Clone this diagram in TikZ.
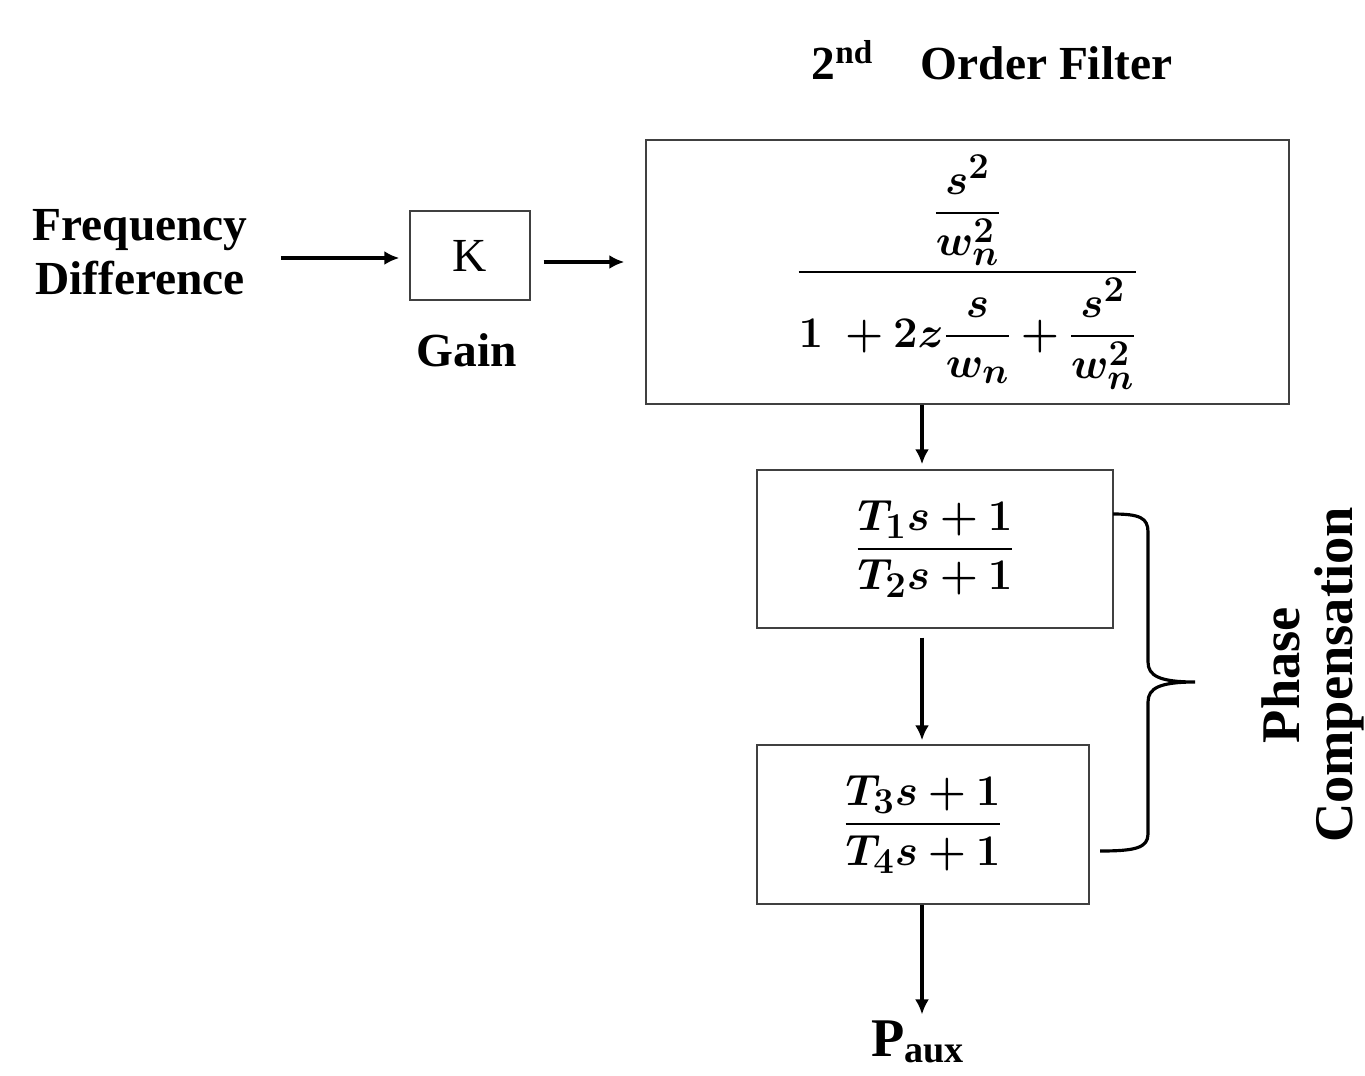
\documentclass[tikz,border=0pt]{standalone}
\usepackage{amsmath}
\usepackage{bm}
\usepackage{fontspec}
\setmainfont{Liberation Serif}
\usetikzlibrary{arrows.meta,positioning}
\newlength\pxu
\setlength\pxu{0.02cm}
\newcommand\filtexpr{$\dfrac{\dfrac{\bm{s}^{\bm{2}}}{\bm{w}_{\bm{n}}^{\bm{2}}}}{\bm{1}\;\bm{+}\bm{2}\bm{z}\dfrac{\bm{s}}{\bm{w}_{\bm{n}}}\bm{+}\dfrac{\bm{s}^{\bm{2}}}{\bm{w}_{\bm{n}}^{\bm{2}}}}$}
\newcommand\leadexpr[2]{$\dfrac{\bm{T}_{\bm{#1}}\bm{s}\bm{+}\bm{1}}{\bm{T}_{\bm{#2}}\bm{s}\bm{+}\bm{1}}$}
\begin{document}
\begin{tikzpicture}[x=1\pxu, y=-1\pxu,
    every node/.style={font=\fontsize{27}{33}\selectfont},
    lbl/.style={font=\fontsize{27}{31}\selectfont\bfseries, align=center},
    blk/.style={draw=black!75, line width=0.8pt, inner sep=0pt},
    eqn/.style={blk, font=\fontsize{29}{35}\selectfont},
    arr/.style={-{Latex[length=0.3cm,width=0.28cm]}, line width=1.8pt},
    brace/.style={line width=1.8pt}]
    \useasboundingbox (0,0) rectangle (1365,1075);

    % blocks
    \node[blk, minimum width=120\pxu, minimum height=89\pxu] (gain) at (470,255.5) {K};
    \node[eqn, minimum width=643\pxu, minimum height=264\pxu] (filt) at (967.5,272) {\filtexpr};
    \node[eqn, minimum width=356\pxu, minimum height=158\pxu] (lead1) at (935,549) {\leadexpr{1}{2}};
    \node[eqn, minimum width=332\pxu, minimum height=159\pxu] (lead2) at (923,824.5) {\leadexpr{3}{4}};

    % labels
    \node[lbl] (freq) at (140,252) {Frequency\\Difference};
    \node[lbl] (gainlbl) at (467,350) {Gain};
    \node[lbl] (title) at (992,60) {2\textsuperscript{nd}\quad Order Filter};
    \node[lbl, rotate=90, font=\fontsize{31}{30}\selectfont\bfseries] (phase) at (1313,675) {Phase\\Compensation};
    \node[lbl, font=\fontsize{31}{35}\selectfont\bfseries] (paux) at (918,1042) {P\textsubscript{aux}};

    \coordinate (col) at (922,0);
    \coordinate (rowa) at (0,258);
    \coordinate (rowb) at (0,262);

    % connectors
    \draw[arr, shorten <=0.54cm, shorten >=0.2cm] (freq.east |- rowa) -- (gain.west |- rowa);
    \draw[arr, shorten <=0.26cm, shorten >=0.42cm] (gain.east |- rowb) -- (filt.west |- rowb);
    \draw[arr, shorten >=0.1cm] (filt.south -| col) -- (lead1.north -| col);
    \draw[arr, shorten <=0.18cm, shorten >=0.08cm] (lead1.south -| col) -- (lead2.north -| col);
    \draw[arr] (lead2.south -| col) -- (paux.north -| col);

    % brace
    \draw[brace] (1113,514) .. controls (1140,514) and (1148,518) .. (1148,532)
        -- (1148,662) .. controls (1148,676) and (1160,682) .. (1195,682)
        .. controls (1160,682) and (1148,688) .. (1148,702)
        -- (1148,834) .. controls (1148,848) and (1135,851) .. (1100,851);
\end{tikzpicture}
\end{document}
